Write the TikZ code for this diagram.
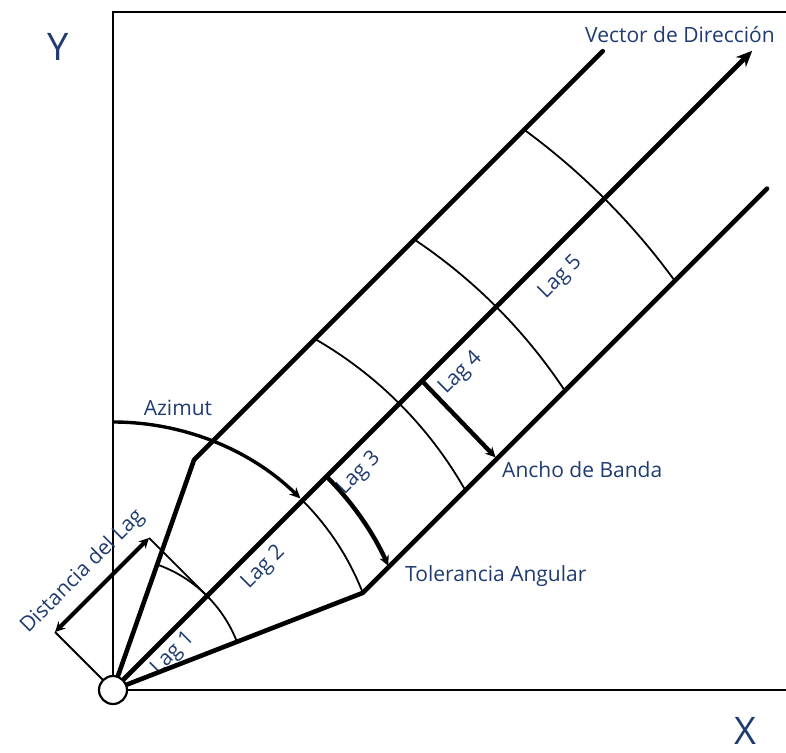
\documentclass[tikz,border=0pt]{standalone}
\usepackage{fontspec}
\setmainfont{Open Sans}
\usetikzlibrary{arrows.meta}
\definecolor{labelblue}{HTML}{1F3B70}

\begin{document}
\begin{tikzpicture}[x=1pt, y=1pt,
    axisline/.style={line width=2.8pt, line join=miter},
    band/.style={line width=4.6pt, line cap=round, line join=round},
    lagarc/.style={line width=1.8pt},
    bwarrow/.style={line width=4.4pt, -{Stealth[length=10pt, width=10pt]}},
    txt/.style={text=labelblue, font=\fontsize{21}{23}\selectfont, inner sep=0pt},
    lagtxt/.style={txt, rotate=45},
    axtxt/.style={text=labelblue, font=\fontsize{38}{40}\selectfont, inner sep=0pt},
]
\useasboundingbox (-113,-62) rectangle (673,690);

% origin and frame
\node[circle, draw, line width=2.2pt, fill=white, minimum size=28pt, inner sep=0pt] (O) at (0,0) {};
\coordinate (ytop) at (0,678);
\coordinate (corner) at (680,678);
\coordinate (xend) at (680,0);
\draw[axisline] (O) -- (ytop) -- (corner);
\draw[axisline] (O) -- (xend);

\node[axtxt] (ylab) at (-55,643) {Y};
\node[axtxt] (xlab) at (632,-41) {X};

% points along the direction (u along the vector, v across)
\begin{scope}[rotate=45]
  \coordinate (tip) at (904,0);
  \coordinate (up1) at (220,105.4);
  \coordinate (up2) at (798,105.4);
  \coordinate (lo1) at (245.4,-108);
  \coordinate (lo2) at (817,-108);
  \coordinate (dimA) at (0,82);
  \coordinate (dimB) at (133,82);
  \coordinate (extA) at (0,15);
  \coordinate (extB) at (133,-3);
  \coordinate (bw4a) at (437,-2);
  \coordinate (bw4b) at (435,-106);
  \node[lagtxt] (lag1) at (68,-17) {Lag 1};
  \node[lagtxt] (lag2) at (193,-20) {Lag 2};
  \node[lagtxt] (lag3) at (327,-21) {Lag 3};
  \node[lagtxt] (lag4) at (470,-22) {Lag 4};
  \node[lagtxt] (lag5) at (608,-25) {Lag 5};
  \node[lagtxt] (dist) at (62,105) {Distancia del Lag};
\end{scope}

% tolerance and band lines
\draw[band] (O) -- (up1) -- (up2);
\draw[band] (O) -- (lo1) -- (lo2);
\draw[band, -{Stealth[length=16pt, width=14pt]}] (O) -- (tip);

% lag arcs
\draw[lagarc] (O.center) ++(70.6:133) arc[start angle=70.6, end angle=21.2, radius=133];
\draw[lagarc] (O.center) ++(45:268) arc[start angle=45, end angle=21.2, radius=268];
\foreach \r/\a/\b in {405/60.1/29.5, 542/56.2/33.5, 695/53.7/36.1}
  \draw[lagarc] (O.center) ++(\a:\r) arc[start angle=\a, end angle=\b, radius=\r];

% azimuth
\draw[line width=3.4pt, -{Stealth[length=11pt, width=10pt]}]
  (O.center) ++(90:268) arc[start angle=90, end angle=45.6, radius=268];
\node[txt] (azim) at (65,282) {Azimut};

% lag distance
\draw[lagarc] (extA) -- (dimA);
\draw[lagarc] (dimB) -- (extB);
\draw[line width=4pt, {Stealth[length=10pt, width=10pt]}-{Stealth[length=10pt, width=10pt]}] (dimA) -- (dimB);

% bandwidth and tolerance arrows
\draw[bwarrow] (O.center) ++(44.6:302) arc[start angle=44.6, end angle=24.3, radius=302];
\draw[bwarrow] (bw4a) -- (bw4b);

\node[txt, anchor=west] (tol) at (292,114) {Tolerancia Angular};
\node[txt, anchor=west] (bw) at (389,220) {Ancho de Banda};
\node[txt] (vec) at (567,655) {Vector de Dirección};
\end{tikzpicture}
\end{document}
